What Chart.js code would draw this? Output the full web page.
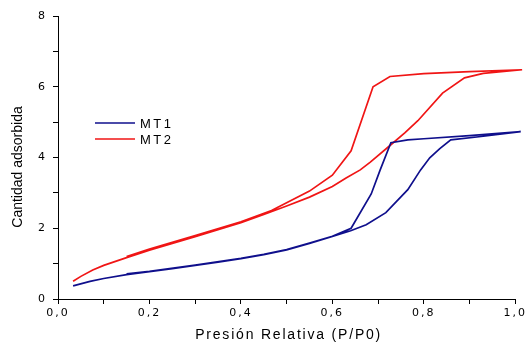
<!doctype html>
<html lang="es">

<head>
    <title>Isotermas MT1 / MT2</title>
    <meta charset="utf-8">
    <script src="https://cdn.jsdelivr.net/npm/chart.js@4.4.1/dist/chart.umd.min.js"></script>
    <style>
        html, body { margin: 0; padding: 0; background: #fff; }
        #container { width: 530px; height: 343px; }
    </style>
</head>

<body>
    <div id="container">
        <canvas id="myChart" width="530" height="343"></canvas>
    </div>

    <script>
        // MT1: adsorción (ida) y desorción (vuelta)
        const mt1X = [0.033, 0.07, 0.1, 0.15, 0.2, 0.25, 0.3, 0.35, 0.4, 0.45, 0.5, 0.55, 0.6, 0.64, 0.674, 0.717, 0.765, 0.793, 0.813, 0.835, 0.859, 0.93, 1.012,
                      0.9, 0.8, 0.765, 0.728, 0.704, 0.685, 0.641, 0.6, 0.55, 0.5, 0.45, 0.4, 0.3, 0.2, 0.15];
        const mt1Y = [0.37, 0.5, 0.58, 0.69, 0.77, 0.86, 0.95, 1.04, 1.14, 1.25, 1.39, 1.57, 1.77, 1.93, 2.1, 2.44, 3.09, 3.65, 3.99, 4.25, 4.5, 4.6, 4.73,
                      4.62, 4.53, 4.5, 4.42, 3.63, 2.97, 2.0, 1.77, 1.58, 1.4, 1.26, 1.15, 0.96, 0.78, 0.71];

        // MT2
        const mt2X = [0.033, 0.05, 0.076, 0.1, 0.15, 0.2, 0.25, 0.3, 0.35, 0.4, 0.45, 0.5, 0.55, 0.6, 0.63, 0.661, 0.683, 0.728, 0.759, 0.787, 0.841, 0.889, 0.93, 1.015,
                      0.9, 0.8, 0.726, 0.689, 0.641, 0.6, 0.55, 0.5, 0.467, 0.4, 0.3, 0.2, 0.15];
        const mt2Y = [0.5, 0.64, 0.82, 0.95, 1.17, 1.38, 1.57, 1.76, 1.96, 2.16, 2.39, 2.63, 2.88, 3.18, 3.42, 3.65, 3.87, 4.36, 4.7, 5.04, 5.82, 6.25, 6.38, 6.48,
                      6.43, 6.37, 6.29, 6.0, 4.19, 3.5, 3.05, 2.72, 2.5, 2.18, 1.79, 1.41, 1.2];

        const seriesNames = ['MT1', 'MT2'];
        const seriesColors = ['#0f0f8c', '#f01515'];

        const xTicks = [0, 0.2, 0.4, 0.6, 0.8, 1.0];
        const yTicks = [0, 2, 4, 6, 8];

        const xTitle = 'Presión Relativa (P/P0)';
        const yTitle = 'Cantidad adsorbida';

        function toPoints(xs, ys) {
            return xs.map((x, i) => ({ x: x, y: ys[i] }));
        }

        function spacing(chart) {
            chart.ctx.letterSpacing = '2px';
        }

        // títulos y leyenda dibujados a mano
        const extras = {
            id: 'extras',
            beforeLayout: spacing,
            beforeDraw: spacing,
            afterDraw(chart) {
                const ctx = chart.ctx;
                const area = chart.chartArea;
                ctx.save();
                ctx.fillStyle = '#000';
                ctx.textBaseline = 'middle';

                // eje Y
                ctx.letterSpacing = '0px';
                ctx.font = '14px "Liberation Sans", Arial, sans-serif';
                ctx.textAlign = 'center';
                ctx.translate(18, 167);
                ctx.rotate(-Math.PI / 2);
                ctx.fillText(yTitle, 0, 0);
                ctx.setTransform(1, 0, 0, 1, 0, 0);

                // eje X
                ctx.letterSpacing = '1.8px';
                ctx.font = '14px "Liberation Sans", Arial, sans-serif';
                ctx.fillText(xTitle, (area.left + area.right) / 2 + 2, 335);

                // leyenda
                ctx.letterSpacing = '2.5px';
                ctx.font = '13px "Liberation Sans", Arial, sans-serif';
                ctx.textAlign = 'left';
                seriesNames.forEach((name, i) => {
                    const y = 123 + i * 16;
                    ctx.strokeStyle = seriesColors[i];
                    ctx.lineWidth = 1.5;
                    ctx.beginPath();
                    ctx.moveTo(95, y);
                    ctx.lineTo(135, y);
                    ctx.stroke();
                    ctx.fillText(name, 140, y + 1);
                });
                ctx.restore();
            }
        };

        function fmt(v) {
            return v.toFixed(1).replace('.', ',');
        }

        window.onload = function () {
            let ctx = document.getElementById('myChart').getContext('2d');

            let data = {
                datasets: [
                    { label: seriesNames[0], data: toPoints(mt1X, mt1Y), borderColor: seriesColors[0] },
                    { label: seriesNames[1], data: toPoints(mt2X, mt2Y), borderColor: seriesColors[1] }
                ]
            };

            let tickFont = { family: '"DejaVu Sans", sans-serif', size: 11 };

            let options = {
                responsive: false,
                animation: false,
                events: [],
                layout: { padding: { left: 0, right: 11, top: 16, bottom: 0 } },
                elements: {
                    point: { radius: 0 },
                    line: { borderWidth: 1.7, tension: 0, fill: false }
                },
                datasets: { scatter: { showLine: true, clip: false } },
                plugins: {
                    legend: { display: false },
                    tooltip: { enabled: false }
                },
                scales: {
                    x: {
                        type: 'linear',
                        min: 0,
                        max: 1,
                        border: { display: true, color: '#000', width: 1 },
                        grid: { drawOnChartArea: false, drawTicks: true, tickLength: 5, color: '#000' },
                        ticks: {
                            stepSize: 0.1,
                            color: '#000',
                            font: tickFont,
                            padding: 3,
                            maxRotation: 0,
                            autoSkip: false,
                            callback: v => xTicks.some(t => Math.abs(t - v) < 1e-6) ? fmt(v) : ''
                        },
                        afterFit: s => { s.height = 44; }
                    },
                    y: {
                        type: 'linear',
                        min: 0,
                        max: 8,
                        border: { display: true, color: '#000', width: 1 },
                        grid: { drawOnChartArea: false, drawTicks: true, tickLength: 5, color: '#000' },
                        ticks: {
                            stepSize: 1,
                            color: '#000',
                            font: tickFont,
                            padding: 6,
                            autoSkip: false,
                            callback: v => yTicks.includes(v) ? String(v) : ''
                        },
                        afterFit: s => { s.width = 58; }
                    }
                }
            };

            new Chart(ctx, {
                type: 'scatter',
                data: data,
                options: options,
                plugins: [extras]
            });
        };
    </script>
</body>

</html>
